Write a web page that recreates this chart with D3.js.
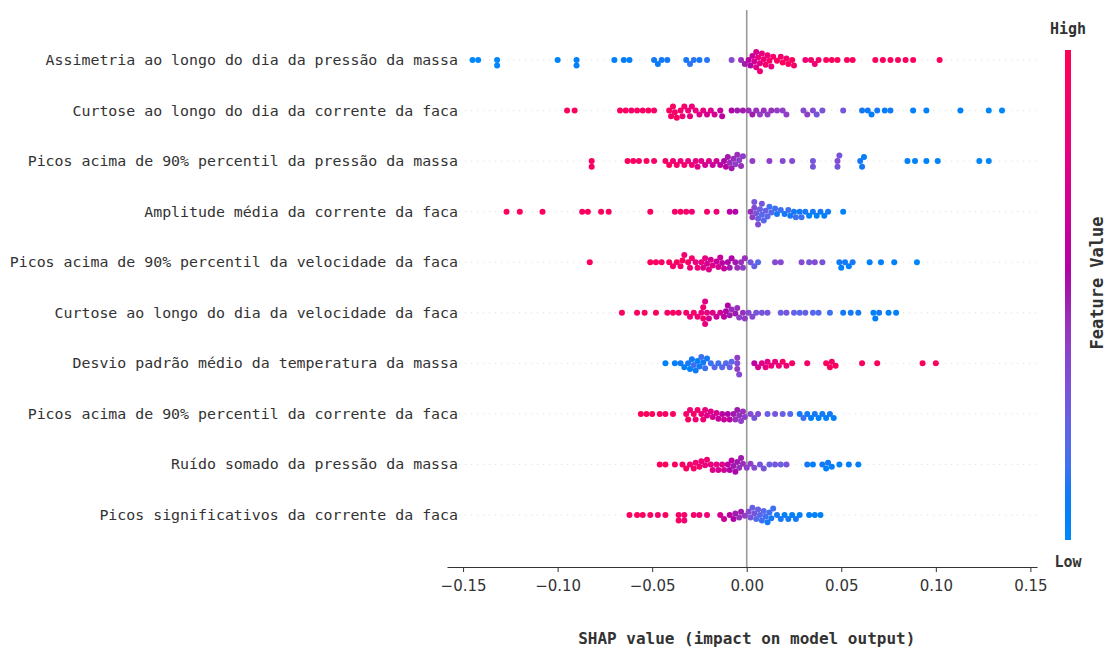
<!DOCTYPE html>
<html>
<head>
<meta charset="utf-8">
<script src="https://cdn.jsdelivr.net/npm/d3@7"></script>
<style>
  html, body { margin: 0; padding: 0; background: #fff; }
  svg { display: block; }
</style>
</head>
<body>
<svg id="chart" width="1108" height="653"></svg>
<script>
// Feature names, top to bottom
const features = [
  "Assimetria ao longo do dia da pressão da massa",
  "Curtose ao longo do dia da corrente da faca",
  "Picos acima de 90% percentil da pressão da massa",
  "Amplitude média da corrente da faca",
  "Picos acima de 90% percentil da velocidade da faca",
  "Curtose ao longo do dia da velocidade da faca",
  "Desvio padrão médio da temperatura da massa",
  "Picos acima de 90% percentil da corrente da faca",
  "Ruído somado da pressão da massa",
  "Picos significativos da corrente da faca"
];

// Per-feature samples: [SHAP value, normalised feature value (0 = low, 1 = high)]
const assimetriaPressao = [
  [-0.145,0.0],[-0.142,0.0],[-0.132,0.02],[-0.132,0.02],[-0.100,0.05],[-0.090,0.05],[-0.090,0.05],
  [-0.070,0.05],[-0.065,0.08],[-0.062,0.06],[-0.049,0.1],[-0.047,0.08],[-0.045,0.1],[-0.042,0.1],
  [-0.032,0.1],[-0.030,0.12],[-0.028,0.12],[-0.025,0.1],[-0.021,0.12],[-0.008,0.35],
  [-0.003,0.45],[-0.001,0.5],[0.001,0.6],[0.002,0.55],[0.003,0.65],[0.004,0.7],[0.005,0.75],[0.005,0.7],
  [0.006,0.8],[0.007,0.75],[0.007,0.85],[0.008,0.8],[0.009,0.85],[0.010,0.9],[0.011,0.85],[0.012,0.9],
  [0.013,0.8],[0.014,0.9],[0.016,0.95],[0.018,0.9],[0.019,0.95],[0.021,0.9],[0.022,0.95],[0.024,0.95],
  [0.025,0.9],[0.031,0.85],[0.034,0.9],[0.036,0.85],[0.038,0.9],[0.042,0.95],[0.045,0.95],[0.048,0.95],
  [0.053,0.95],[0.056,0.95],[0.068,0.95],[0.072,0.95],[0.076,0.95],[0.080,0.95],[0.084,0.95],[0.088,0.95],
  [0.102,0.95]
];
const curtoseCorrente = [
  [-0.095,0.95],[-0.091,0.95],[-0.067,0.95],[-0.064,0.95],[-0.061,0.9],[-0.058,0.95],[-0.055,0.9],
  [-0.052,0.95],[-0.049,0.9],[-0.041,0.95],[-0.040,0.9],[-0.039,0.95],[-0.038,0.9],[-0.037,0.95],
  [-0.035,0.9],[-0.034,0.85],[-0.033,0.9],[-0.031,0.85],[-0.030,0.8],[-0.029,0.85],[-0.027,0.8],
  [-0.025,0.75],[-0.023,0.8],[-0.021,0.7],[-0.019,0.75],[-0.017,0.7],[-0.014,0.65],[-0.013,0.6],
  [-0.008,0.55],[-0.005,0.5],[-0.002,0.5],[0.001,0.45],[0.003,0.5],[0.005,0.45],[0.007,0.4],[0.009,0.45],
  [0.011,0.4],[0.013,0.45],[0.016,0.4],[0.019,0.4],[0.021,0.4],[0.030,0.35],[0.032,0.4],[0.035,0.35],
  [0.037,0.3],[0.040,0.3],[0.051,0.3],[0.061,0.1],[0.064,0.1],[0.066,0.05],[0.069,0.1],[0.073,0.05],
  [0.076,0.1],[0.088,0.05],[0.095,0.05],[0.113,0.05],[0.128,0.0],[0.135,0.0]
];
const picosPressao = [
  [-0.082,0.95],[-0.082,0.95],[-0.063,0.95],[-0.060,0.95],[-0.057,0.9],[-0.053,0.95],[-0.049,0.9],
  [-0.043,0.9],[-0.041,0.95],[-0.039,0.85],[-0.037,0.9],[-0.035,0.85],[-0.033,0.9],[-0.031,0.8],
  [-0.029,0.85],[-0.027,0.8],[-0.026,0.75],[-0.024,0.75],[-0.022,0.7],[-0.020,0.75],[-0.018,0.65],
  [-0.016,0.7],[-0.014,0.6],[-0.012,0.55],[-0.011,0.6],[-0.010,0.5],[-0.009,0.45],[-0.008,0.5],
  [-0.007,0.45],[-0.006,0.4],[-0.005,0.45],[-0.004,0.4],[-0.003,0.45],[-0.002,0.4],[0.003,0.4],
  [0.012,0.4],[0.019,0.35],[0.024,0.35],[0.035,0.3],[0.035,0.3],[0.048,0.35],[0.048,0.3],[0.049,0.3],
  [0.060,0.1],[0.061,0.1],[0.062,0.05],[0.085,0.05],[0.089,0.05],[0.095,0.05],[0.101,0.05],
  [0.123,0.0],[0.128,0.0]
];
const amplitudeCorrente = [
  [-0.127,0.95],[-0.120,0.95],[-0.108,0.95],[-0.087,0.95],[-0.084,0.95],[-0.077,0.95],[-0.073,0.95],
  [-0.051,0.95],[-0.038,0.9],[-0.035,0.95],[-0.032,0.9],[-0.029,0.85],[-0.021,0.9],[-0.016,0.85],
  [-0.009,0.6],[-0.006,0.55],[0.002,0.45],[0.003,0.4],[0.004,0.35],[0.004,0.3],[0.005,0.3],[0.006,0.25],
  [0.006,0.35],[0.007,0.25],[0.008,0.2],[0.008,0.3],[0.009,0.2],[0.010,0.25],[0.011,0.2],[0.012,0.15],
  [0.013,0.2],[0.015,0.15],[0.016,0.1],[0.018,0.15],[0.020,0.1],[0.022,0.15],[0.023,0.1],[0.025,0.1],
  [0.026,0.15],[0.028,0.1],[0.029,0.15],[0.031,0.1],[0.033,0.05],[0.035,0.1],[0.037,0.05],[0.039,0.1],
  [0.041,0.05],[0.043,0.1],[0.051,0.05]
];
const picosVelocidade = [
  [-0.083,0.95],[-0.051,0.95],[-0.048,0.95],[-0.045,0.9],[-0.041,0.95],[-0.039,0.9],[-0.037,0.95],
  [-0.035,0.9],[-0.034,0.95],[-0.033,0.85],[-0.031,0.9],[-0.030,0.85],[-0.029,0.9],[-0.027,0.8],
  [-0.026,0.85],[-0.024,0.8],[-0.023,0.75],[-0.022,0.8],[-0.021,0.7],[-0.020,0.75],[-0.019,0.7],
  [-0.018,0.75],[-0.016,0.65],[-0.015,0.7],[-0.014,0.65],[-0.013,0.6],[-0.012,0.65],[-0.010,0.55],
  [-0.009,0.5],[-0.008,0.55],[-0.006,0.5],[-0.005,0.45],[-0.003,0.45],[-0.002,0.4],[-0.001,0.45],
  [0.002,0.3],[0.004,0.25],[0.006,0.2],[0.015,0.35],[0.018,0.35],[0.029,0.35],[0.033,0.3],[0.036,0.35],
  [0.040,0.3],[0.049,0.1],[0.050,0.05],[0.052,0.1],[0.054,0.05],[0.056,0.1],[0.065,0.05],[0.071,0.05],
  [0.078,0.05],[0.090,0.0]
];
const curtoseVelocidade = [
  [-0.066,0.95],[-0.058,0.95],[-0.054,0.95],[-0.048,0.95],[-0.042,0.9],[-0.039,0.95],[-0.036,0.9],
  [-0.032,0.9],[-0.030,0.85],[-0.028,0.9],[-0.026,0.85],[-0.024,0.8],[-0.023,0.9],[-0.023,0.85],
  [-0.022,0.8],[-0.022,0.75],[-0.021,0.8],[-0.020,0.7],[-0.018,0.75],[-0.016,0.65],[-0.014,0.7],
  [-0.012,0.6],[-0.011,0.55],[-0.010,0.55],[-0.009,0.5],[-0.008,0.45],[-0.006,0.5],[-0.005,0.45],
  [-0.004,0.4],[-0.002,0.45],[-0.001,0.4],[0.001,0.35],[0.003,0.35],[0.005,0.3],[0.008,0.3],[0.011,0.3],
  [0.018,0.25],[0.021,0.3],[0.025,0.25],[0.028,0.2],[0.031,0.25],[0.035,0.2],[0.038,0.2],[0.044,0.15],
  [0.051,0.1],[0.055,0.1],[0.059,0.1],[0.067,0.05],[0.068,0.05],[0.070,0.1],[0.075,0.05],[0.079,0.05]
];
const desvioTemperatura = [
  [-0.043,0.05],[-0.038,0.05],[-0.035,0.1],[-0.033,0.05],[-0.031,0.1],[-0.030,0.05],[-0.029,0.1],
  [-0.028,0.15],[-0.027,0.1],[-0.026,0.05],[-0.025,0.1],[-0.024,0.15],[-0.023,0.1],[-0.022,0.15],
  [-0.021,0.1],[-0.019,0.15],[-0.017,0.2],[-0.015,0.15],[-0.013,0.2],[-0.011,0.2],[-0.009,0.25],
  [-0.008,0.2],[-0.005,0.35],[-0.005,0.4],[-0.004,0.35],[-0.005,0.4],[0.004,0.6],[0.006,0.7],
  [0.008,0.75],[0.010,0.8],[0.011,0.75],[0.013,0.85],[0.015,0.8],[0.017,0.85],[0.019,0.9],[0.021,0.85],
  [0.024,0.9],[0.032,0.9],[0.042,0.95],[0.044,0.95],[0.045,0.9],[0.047,0.95],[0.061,0.95],[0.069,0.95],
  [0.093,0.95],[0.100,0.95]
];
const picosCorrente = [
  [-0.056,0.95],[-0.053,0.95],[-0.050,0.95],[-0.046,0.95],[-0.043,0.9],[-0.039,0.95],[-0.032,0.9],
  [-0.031,0.95],[-0.030,0.85],[-0.028,0.9],[-0.027,0.85],[-0.026,0.9],[-0.024,0.8],[-0.023,0.85],
  [-0.022,0.8],[-0.021,0.75],[-0.019,0.75],[-0.018,0.7],[-0.016,0.7],[-0.015,0.65],[-0.013,0.6],
  [-0.012,0.65],[-0.010,0.55],[-0.009,0.6],[-0.007,0.5],[-0.006,0.45],[-0.005,0.5],[-0.004,0.45],
  [-0.003,0.4],[-0.002,0.45],[-0.001,0.4],[0.002,0.35],[0.004,0.3],[0.006,0.35],[0.011,0.25],
  [0.015,0.3],[0.019,0.25],[0.023,0.2],[0.028,0.1],[0.030,0.15],[0.032,0.1],[0.034,0.05],[0.036,0.1],
  [0.038,0.05],[0.040,0.1],[0.042,0.05],[0.044,0.1],[0.046,0.05]
];
const ruidoPressao = [
  [-0.046,0.95],[-0.043,0.95],[-0.038,0.95],[-0.034,0.9],[-0.032,0.95],[-0.030,0.9],[-0.028,0.9],
  [-0.027,0.85],[-0.025,0.9],[-0.024,0.85],[-0.022,0.8],[-0.021,0.85],[-0.019,0.8],[-0.018,0.75],
  [-0.016,0.8],[-0.015,0.7],[-0.013,0.75],[-0.012,0.7],[-0.010,0.6],[-0.009,0.55],[-0.008,0.6],
  [-0.007,0.5],[-0.006,0.55],[-0.005,0.5],[-0.004,0.45],[-0.003,0.5],[-0.002,0.45],[0.000,0.4],
  [0.002,0.4],[0.004,0.35],[0.007,0.3],[0.009,0.3],[0.012,0.25],[0.015,0.3],[0.018,0.25],[0.021,0.3],
  [0.032,0.1],[0.035,0.05],[0.040,0.1],[0.042,0.05],[0.043,0.1],[0.045,0.05],[0.049,0.05],[0.054,0.05],
  [0.059,0.05]
];
const picosSignificativos = [
  [-0.062,0.95],[-0.058,0.95],[-0.055,0.95],[-0.051,0.95],[-0.047,0.9],[-0.043,0.95],[-0.036,0.9],
  [-0.036,0.95],[-0.033,0.9],[-0.033,0.85],[-0.028,0.9],[-0.025,0.85],[-0.021,0.85],[-0.014,0.7],
  [-0.012,0.65],[-0.009,0.6],[-0.007,0.55],[-0.006,0.5],[-0.004,0.45],[-0.003,0.5],[-0.001,0.4],
  [0.001,0.35],[0.002,0.3],[0.003,0.25],[0.004,0.3],[0.005,0.2],[0.006,0.25],[0.007,0.2],[0.008,0.15],
  [0.009,0.2],[0.010,0.15],[0.011,0.1],[0.012,0.15],[0.013,0.1],[0.014,0.15],[0.016,0.1],[0.018,0.1],
  [0.020,0.05],[0.022,0.1],[0.024,0.05],[0.026,0.1],[0.028,0.05],[0.033,0.05],[0.036,0.05],[0.039,0.05]
];

const seriesByFeature = [
  assimetriaPressao, curtoseCorrente, picosPressao, amplitudeCorrente, picosVelocidade,
  curtoseVelocidade, desvioTemperatura, picosCorrente, ruidoPressao, picosSignificativos
];

const xTicks = [-0.15, -0.10, -0.05, 0.00, 0.05, 0.10, 0.15];
const xTitle = "SHAP value (impact on model output)";
const colorbarTitle = "Feature Value";
const colorbarEnds = ["High", "Low"];

// ---- layout ----
const svg = d3.select("#chart");
const textColor = "#333333";
const monoFont = "'DejaVu Sans Mono', monospace";

const x = d3.scaleLinear().domain([-0.1585, 0.1535]).range([447, 1037]);
const y = d3.scalePoint().domain(features).range([60, 515]);
const axisY = 567;

// Red/blue colour map interpolated in LCh through purple
function featureColor(t) {
  const l = t < 0.5 ? 54 - 28 * t : 40 + 28 * (t - 0.5);
  const c = 70 + 20 * t;
  const h = 267 + 113 * t;
  return d3.hcl(h, c, l).formatHex();
}

// faint dotted guide line for each feature
svg.append("g").selectAll("line").data(features).join("line")
  .attr("x1", 447).attr("x2", 1037)
  .attr("y1", d => y(d)).attr("y2", d => y(d))
  .attr("stroke", "#d4d4d4").attr("stroke-width", 0.8)
  .attr("stroke-dasharray", "1,5");

// zero line
svg.append("line")
  .attr("x1", x(0)).attr("x2", x(0))
  .attr("y1", 10).attr("y2", axisY)
  .attr("stroke", "#999999").attr("stroke-width", 1.6);

// feature labels
svg.append("g").selectAll("text").data(features).join("text")
  .attr("x", 458).attr("y", d => y(d))
  .attr("text-anchor", "end").attr("dominant-baseline", "central")
  .attr("font-family", monoFont).attr("font-size", 14.9)
  .attr("fill", textColor)
  .text(d => d);

// beeswarm placement: each dot is nudged vertically until it clears its neighbours
const r = 3.0;
function swarm(values) {
  const pts = values.map(([v, f]) => ({ v, f, px: x(v), dy: 0 }))
    .sort((a, b) => a.px - b.px);
  const placed = [];
  const minD = 2 * r * 0.9;
  for (const p of pts) {
    for (let k = 0; k < 200; k++) {
      const cand = k === 0 ? 0 : (k % 2 ? 1 : -1) * Math.ceil(k / 2) * 0.8;
      const hit = placed.some(q => Math.abs(q.px - p.px) < minD &&
        (q.px - p.px) ** 2 + (q.dy - cand) ** 2 < minD * minD);
      if (!hit) { p.dy = cand; break; }
    }
    placed.push(p);
  }
  return pts;
}

const dotsG = svg.append("g");
features.forEach((name, i) => {
  const pts = swarm(seriesByFeature[i]);
  dotsG.append("g").selectAll("circle").data(pts).join("circle")
    .attr("cx", d => d.px)
    .attr("cy", d => y(name) + d.dy)
    .attr("r", r)
    .attr("fill", d => featureColor(d.f));
});

// x axis
const xAxis = d3.axisBottom(x)
  .tickValues(xTicks)
  .tickFormat(d3.format(".2f"))
  .tickSize(5).tickSizeOuter(0).tickPadding(8);
const axG = svg.append("g").attr("transform", `translate(0,${axisY})`).call(xAxis);
axG.select(".domain").attr("stroke", "#333").attr("stroke-width", 1.2);
axG.selectAll(".tick line").attr("stroke", "#333").attr("stroke-width", 1);
axG.selectAll(".tick text")
  .attr("font-family", "'DejaVu Sans', sans-serif")
  .attr("font-size", 15).attr("fill", textColor);

svg.append("text")
  .attr("x", x(0)).attr("y", 638)
  .attr("text-anchor", "middle").attr("dominant-baseline", "central")
  .attr("font-family", monoFont).attr("font-weight", "bold").attr("font-size", 16)
  .attr("fill", textColor)
  .text(xTitle);

// colour bar
const cbX = 1065, cbW = 6, cbTop = 50, cbBottom = 540;
const defs = svg.append("defs");
const grad = defs.append("linearGradient").attr("id", "cbgrad")
  .attr("x1", 0).attr("y1", 1).attr("x2", 0).attr("y2", 0);
d3.range(0, 1.0001, 0.05).forEach(t => {
  grad.append("stop").attr("offset", t).attr("stop-color", featureColor(t));
});
svg.append("rect")
  .attr("x", cbX).attr("y", cbTop).attr("width", cbW).attr("height", cbBottom - cbTop)
  .attr("fill", "url(#cbgrad)");

svg.append("text")
  .attr("x", cbX + cbW / 2).attr("y", 29)
  .attr("text-anchor", "middle").attr("dominant-baseline", "central")
  .attr("font-family", monoFont).attr("font-weight", "bold").attr("font-size", 15)
  .attr("fill", textColor).text(colorbarEnds[0]);
svg.append("text")
  .attr("x", cbX + cbW / 2).attr("y", 562)
  .attr("text-anchor", "middle").attr("dominant-baseline", "central")
  .attr("font-family", monoFont).attr("font-weight", "bold").attr("font-size", 15)
  .attr("fill", textColor).text(colorbarEnds[1]);
svg.append("text")
  .attr("transform", "translate(1097,283) rotate(-90)")
  .attr("text-anchor", "middle").attr("dominant-baseline", "central")
  .attr("font-family", monoFont).attr("font-weight", "bold").attr("font-size", 17)
  .attr("fill", textColor).text(colorbarTitle);
</script>
</body>
</html>
